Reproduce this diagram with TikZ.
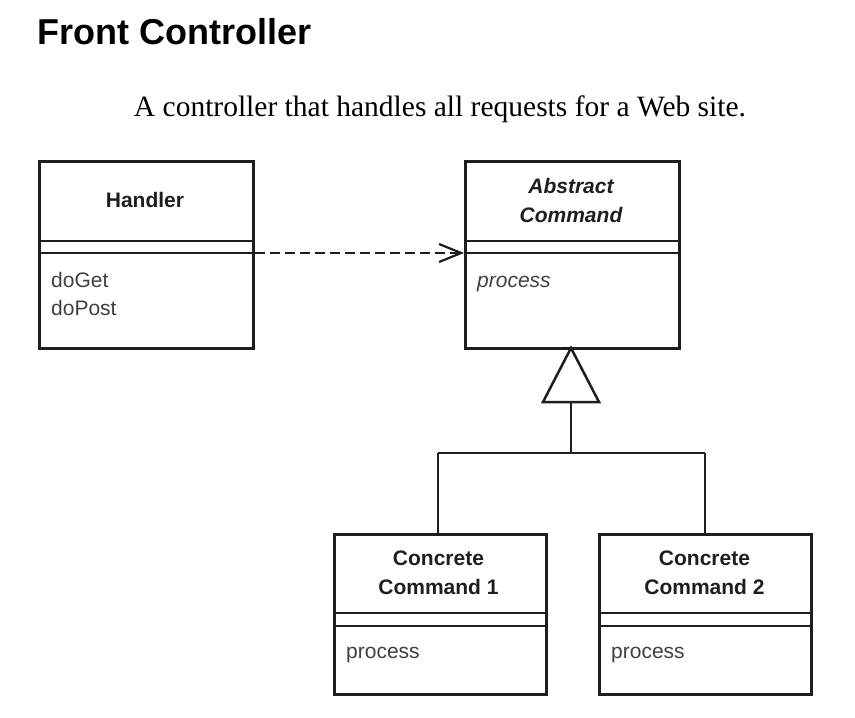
\documentclass[tikz,border=0pt]{standalone}
\usepackage{fontspec}
\setmainfont{Liberation Sans}
\newfontfamily\serifface{Liberation Serif}
\usetikzlibrary{arrows.meta}
\definecolor{ink}{HTML}{1E1E1E}
\tikzset{
  classbox/.style={draw=ink, line width=2.5pt, rectangle, minimum width=214pt, minimum height=187pt, anchor=north west, inner sep=0pt},
  subbox/.style={draw=ink, line width=2.5pt, rectangle, minimum width=212pt, minimum height=160pt, anchor=north west, inner sep=0pt},
  hdr/.style={font=\fontsize{21}{29}\selectfont\bfseries, text=ink, align=center, inner sep=0pt},
  hdrit/.style={font=\fontsize{21}{29}\selectfont\bfseries\itshape, text=ink, align=center, inner sep=0pt},
  meth/.style={font=\fontsize{21}{28}\selectfont, text=ink!85, anchor=base west, inner sep=0pt},
  methit/.style={font=\fontsize{21}{28}\selectfont\itshape, text=ink!85, anchor=base west, inner sep=0pt},
  umlline/.style={draw=ink, line width=2.5pt},
  depline/.style={draw=ink, line width=2.5pt, dash pattern=on 10pt off 5pt, -{Straight Barb[length=22pt,width=18pt,line width=2.2pt]}},
}
\begin{document}
\begin{tikzpicture}[x=1pt,y=-1pt]
\path[use as bounding box] (0,0) rectangle (855,718);
% title
\node[anchor=base west, inner sep=0pt, font=\fontsize{36}{40}\selectfont\bfseries] (title) at (37,44) {Front Controller};
\node[anchor=base, inner sep=0pt, font=\serifface\fontsize{29.5}{33}\selectfont] (sub) at (440,116) {A controller that handles all requests for a Web site.};
% Handler
\node[classbox] (h) at (38,160) {};
\draw[umlline] ([yshift=-81pt]h.north west) -- ([yshift=-81pt]h.north east);
\draw[umlline] ([yshift=-93pt]h.north west) coordinate (hl) -- ([yshift=-93pt]h.north east) coordinate (hr);
\node[hdr] (hname) at (145,200) {Handler};
\node[meth] (m1) at (51,287) {doGet};
\node[meth] (m2) at (51,315) {doPost};
% Abstract Command
\node[classbox] (a) at (464,160) {};
\draw[umlline] ([yshift=-81pt]a.north west) -- ([yshift=-81pt]a.north east);
\draw[umlline] ([yshift=-93pt]a.north west) coordinate (al) -- ([yshift=-93pt]a.north east);
\node[hdrit] (aname) at (571,200) {Abstract\\Command};
\node[methit] (am) at (477,287) {process};
% dependency
\draw[depline] (hr) -- (al);
% Concrete 1
\node[subbox] (c1) at (333,533) {};
\draw[umlline] ([yshift=-80pt]c1.north west) -- ([yshift=-80pt]c1.north east);
\draw[umlline] ([yshift=-93pt]c1.north west) -- ([yshift=-93pt]c1.north east);
\node[hdr] (c1name) at (438.5,573) {Concrete\\Command 1};
\node[meth] (c1m) at (346,658) {process};
% Concrete 2
\node[subbox] (c2) at (598,533) {};
\draw[umlline] ([yshift=-80pt]c2.north west) -- ([yshift=-80pt]c2.north east);
\draw[umlline] ([yshift=-93pt]c2.north west) -- ([yshift=-93pt]c2.north east);
\node[hdr] (c2name) at (704.5,573) {Concrete\\Command 2};
\node[meth] (c2m) at (611,658) {process};
% generalization
\coordinate (apex) at (571,348);
\coordinate (bl) at (543,402);
\coordinate (br) at (599,402);
\coordinate (bm) at (571,402);
\coordinate (junc) at (571,453);
\coordinate (j1) at (438,453);
\coordinate (j2) at (705,453);
\draw[umlline, line join=miter, fill=white] (apex) -- (br) -- (bl) -- cycle;
\draw[umlline] (bm) -- (junc);
\draw[umlline] (j1) -- (j2);
\draw[umlline] (j1) -- (j1 |- c1.north);
\draw[umlline] (j2) -- (j2 |- c2.north);
\end{tikzpicture}
\end{document}
